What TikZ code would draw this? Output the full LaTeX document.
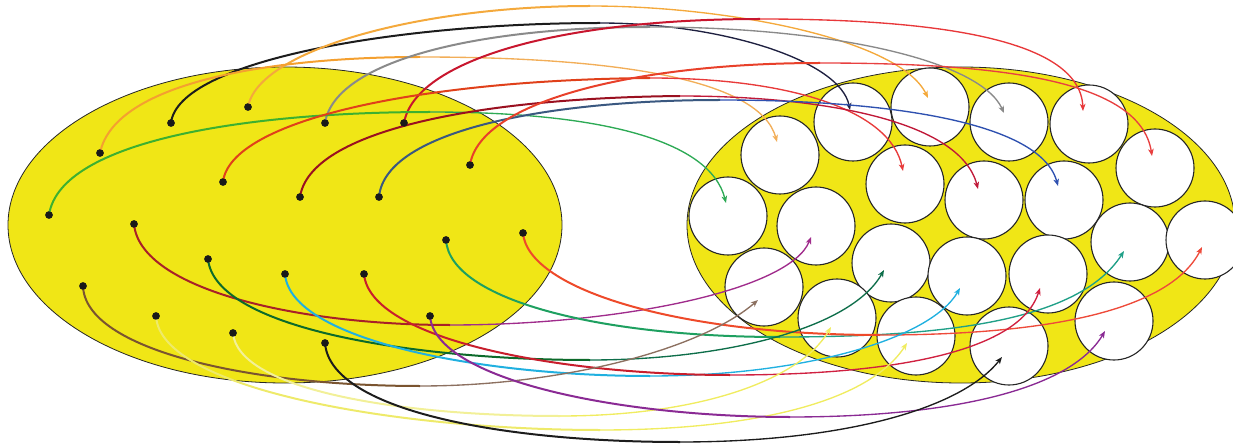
\documentclass[tikz,border=0pt]{standalone}
\usetikzlibrary{arrows.meta}
\definecolor{ellyellow}{HTML}{F0E616}
\definecolor{cBlackA}{HTML}{1C1C1C}\definecolor{cBlackB}{HTML}{1E2040}
\definecolor{cOrA}{HTML}{F4A93C}
\definecolor{cOrB}{HTML}{F4A030}\definecolor{cOrC}{HTML}{F2AE58}
\definecolor{cGray}{HTML}{8A8A8A}
\definecolor{cRedTopA}{HTML}{C8162E}\definecolor{cRedTopB}{HTML}{E8383A}
\definecolor{cGreenA}{HTML}{3DB030}\definecolor{cGreenB}{HTML}{2DAA55}
\definecolor{cRedIA}{HTML}{E0401A}\definecolor{cRedIB}{HTML}{E83A3A}
\definecolor{cDkRedA}{HTML}{9A1020}\definecolor{cDkRedB}{HTML}{C01838}
\definecolor{cBlueA}{HTML}{3A5880}\definecolor{cBlueB}{HTML}{2E50B0}
\definecolor{cRedFA}{HTML}{E8402A}\definecolor{cRedFB}{HTML}{E84040}
\definecolor{cMagA}{HTML}{A82028}\definecolor{cMagB}{HTML}{A02C8C}
\definecolor{cTealA}{HTML}{1EA060}\definecolor{cTealB}{HTML}{20A088}
\definecolor{cRedMA}{HTML}{EE4A2A}\definecolor{cRedMB}{HTML}{EE4A3A}
\definecolor{cDkGrA}{HTML}{0C6A2A}\definecolor{cDkGrB}{HTML}{0E6E4A}
\definecolor{cCyan}{HTML}{20B0E0}
\definecolor{cRedRA}{HTML}{C81E2C}\definecolor{cRedRB}{HTML}{D02040}
\definecolor{cBrownA}{HTML}{7A5430}\definecolor{cBrownB}{HTML}{8C7060}
\definecolor{cYelA}{HTML}{EEEA6A}\definecolor{cYelB}{HTML}{F0EC60}
\definecolor{cYelC}{HTML}{F2F098}
\definecolor{cPurple}{HTML}{8A2A94}
\begin{document}
\begin{tikzpicture}[x=1pt,y=-1pt,
  bigell/.style={draw=black!85,line width=0.8pt,fill=ellyellow},
  cell/.style={draw=black!85,line width=1.1pt,fill=white},
  dot/.style={circle,fill=black!90,inner sep=0pt,minimum size=7.5pt},
  segA/.style={line width=2.0pt},
  segB/.style={line width=1.35pt,-{Stealth[length=7pt,width=5.5pt,inset=1.8pt]}}]
\useasboundingbox (0,0) rectangle (1233,446);
% ellipses
\path[bigell] (285,225) ellipse [x radius=277,y radius=158];
\path[bigell] (961,225) ellipse [x radius=274,y radius=158];
% cells
\foreach \p in {(780,155),(853,122),(930,107),(1009,122),(1089,124),(1155,168),
  (728,216),(816,226),(905,184),(984,200),(1064,200),(1130,242),(1205,240),
  (764,287),(891,263),(967,276),(1048,274),(837,318),(916,336),(1009,346),(1114,321)}
  \path[cell] \p circle [radius=39];
% dots
\node[dot] (d1) at (171,123) {};
\node[dot] (d2) at (248,107) {};
\node[dot] (d3) at (100,153) {};
\node[dot] (d4) at (325,123) {};
\node[dot] (d5) at (404,123) {};
\node[dot] (d6) at (49,215) {};
\node[dot] (d7) at (223,182) {};
\node[dot] (d8) at (300,197) {};
\node[dot] (d9) at (379,197) {};
\node[dot] (d10) at (470,165) {};
\node[dot] (d11) at (134,224) {};
\node[dot] (d12) at (446,240) {};
\node[dot] (d13) at (523,233) {};
\node[dot] (d14) at (208,259) {};
\node[dot] (d15) at (285,274) {};
\node[dot] (d16) at (364,274) {};
\node[dot] (d17) at (83,286) {};
\node[dot] (d18) at (156,316) {};
\node[dot] (d19) at (233,333) {};
\node[dot] (d20) at (430,316) {};
\node[dot] (d21) at (325,343) {};
% via points
\coordinate (m1) at (600,23);   \coordinate (t1) at (850,110);
\coordinate (m2) at (590,6);    \coordinate (t2) at (928,98);
\coordinate (m3) at (420,57);   \coordinate (t3) at (777,142);
\coordinate (m4) at (650,27);   \coordinate (t4) at (1004,113);
\coordinate (m5) at (760,19);   \coordinate (t5) at (1083,111);
\coordinate (m6) at (430,112);  \coordinate (t6) at (726,203);
\coordinate (m7) at (650,78);   \coordinate (t7) at (903,171);
\coordinate (m8) at (680,96);   \coordinate (t8) at (978,189);
\coordinate (m9) at (720,100);  \coordinate (t9) at (1058,186);
\coordinate (m10) at (820,63);  \coordinate (t10) at (1152,156);
\coordinate (m11) at (450,325); \coordinate (t11) at (811,237);
\coordinate (m12) at (780,337); \coordinate (t12) at (1124,251);
\coordinate (m13) at (880,335); \coordinate (t13) at (1202,247);
\coordinate (m14) at (590,360); \coordinate (t14) at (884,270);
\coordinate (m15) at (650,376); \coordinate (t15) at (960,288);
\coordinate (m16) at (730,375); \coordinate (t16) at (1040,288);
\coordinate (m17) at (420,386); \coordinate (t17) at (758,300);
\coordinate (m18) at (600,430); \coordinate (t18) at (907,343);
\coordinate (m19) at (560,416); \coordinate (t19) at (831,327);
\coordinate (m20) at (790,417); \coordinate (t20) at (1105,331);
\coordinate (m21) at (680,442); \coordinate (t21) at (1002,357);
% connectors (upper group)
\draw[segA,cBlackA] (d1.center) .. controls (178,60) and (400,23) .. (m1);
\draw[segB,cBlackB] (m1) .. controls (720,23) and (840,60) .. (t1);
\draw[segA,cOrA] (d2.center) .. controls (258,50) and (420,6) .. (m2);
\draw[segB,cOrA] (m2) .. controls (730,6) and (900,40) .. (t2);
\draw[segA,cOrB] (d3.center) .. controls (115,80) and (280,57) .. (m3);
\draw[segB,cOrC] (m3) .. controls (620,57) and (760,80) .. (t3);
\draw[segA,cGray] (d4.center) .. controls (335,60) and (480,27) .. (m4);
\draw[segB,cGray] (m4) .. controls (830,27) and (980,60) .. (t4);
\draw[segA,cRedTopA] (d5.center) .. controls (415,60) and (560,19) .. (m5);
\draw[segB,cRedTopB] (m5) .. controls (940,19) and (1080,40) .. (t5);
\draw[segA,cGreenA] (d6.center) .. controls (60,140) and (250,112) .. (m6);
\draw[segB,cGreenB] (m6) .. controls (600,112) and (710,140) .. (t6);
\draw[segA,cRedIA] (d7.center) .. controls (230,120) and (420,80) .. (m7);
\draw[segB,cRedIB] (m7) .. controls (790,78) and (890,110) .. (t7);
\draw[segA,cDkRedA] (d8.center) .. controls (310,130) and (480,98) .. (m8);
\draw[segB,cDkRedB] (m8) .. controls (820,96) and (960,120) .. (t8);
\draw[segA,cBlueA] (d9.center) .. controls (385,130) and (550,100) .. (m9);
\draw[segB,cBlueB] (m9) .. controls (880,100) and (1040,120) .. (t9);
\draw[segA,cRedFA] (d10.center) .. controls (480,100) and (640,63) .. (m10);
\draw[segB,cRedFB] (m10) .. controls (1000,63) and (1140,80) .. (t10);
% connectors (lower group)
\draw[segA,cMagA] (d11.center) .. controls (140,290) and (300,325) .. (m11);
\draw[segB,cMagB] (m11) .. controls (620,325) and (790,290) .. (t11);
\draw[segA,cTealA] (d12.center) .. controls (450,300) and (600,337) .. (m12);
\draw[segB,cTealB] (m12) .. controls (950,337) and (1080,320) .. (t12);
\draw[segA,cRedMA] (d13.center) .. controls (528,290) and (680,335) .. (m13);
\draw[segB,cRedMB] (m13) .. controls (1050,335) and (1170,310) .. (t13);
\draw[segA,cDkGrA] (d14.center) .. controls (215,330) and (420,360) .. (m14);
\draw[segB,cDkGrB] (m14) .. controls (720,360) and (850,330) .. (t14);
\draw[segA,cCyan] (d15.center) .. controls (290,340) and (480,376) .. (m15);
\draw[segB,cCyan] (m15) .. controls (800,376) and (930,340) .. (t15);
\draw[segA,cRedRA] (d16.center) .. controls (370,340) and (560,375) .. (m16);
\draw[segB,cRedRB] (m16) .. controls (900,375) and (1020,350) .. (t16);
\draw[segA,cBrownA] (d17.center) .. controls (85,350) and (250,386) .. (m17);
\draw[segB,cBrownB] (m17) .. controls (560,386) and (700,350) .. (t17);
\draw[segA,cYelA] (d18.center) .. controls (160,390) and (400,430) .. (m18);
\draw[segB,cYelB] (m18) .. controls (760,430) and (870,400) .. (t18);
\draw[segA,cYelC] (d19.center) .. controls (238,390) and (400,416) .. (m19);
\draw[segB,cYelB] (m19) .. controls (700,416) and (800,380) .. (t19);
\draw[segA,cPurple] (d20.center) .. controls (435,380) and (620,417) .. (m20);
\draw[segB,cPurple] (m20) .. controls (950,417) and (1070,390) .. (t20);
\draw[segA,cBlackA] (d21.center) .. controls (330,410) and (500,442) .. (m21);
\draw[segB,cBlackA] (m21) .. controls (840,442) and (960,410) .. (t21);
% redraw dots on top
\foreach \n in {d1,d2,d3,d4,d5,d6,d7,d8,d9,d10,d11,d12,d13,d14,d15,d16,d17,d18,d19,d20,d21}
  \fill[black!90] (\n.center) circle [radius=3.7];
\end{tikzpicture}
\end{document}
